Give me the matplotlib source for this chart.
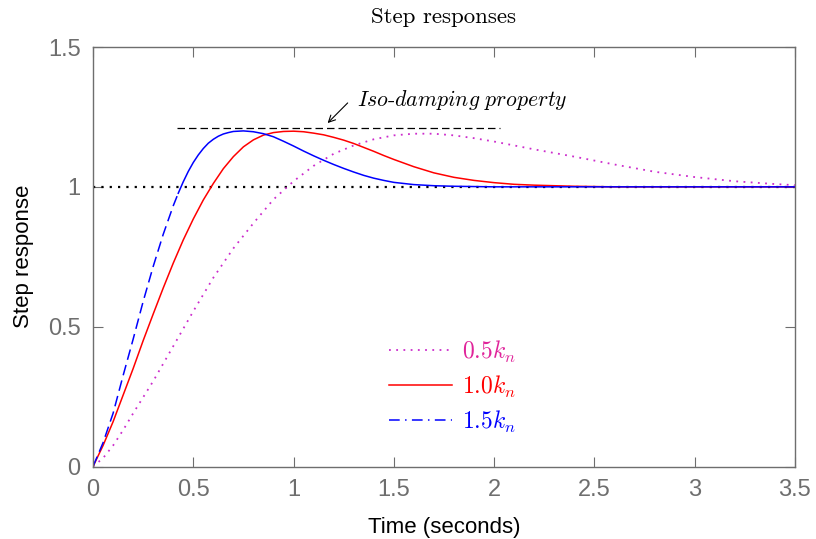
import matplotlib
matplotlib.use('Agg')
import numpy as np
from matplotlib import pyplot as plt

#%% DATA
t_red = [0, 0.05, 0.10, 0.15, 0.20, 0.25, 0.30, 0.35, 0.40, 0.45, 0.50, 0.55, 0.60,
         0.65, 0.70, 0.75, 0.80, 0.85, 0.90, 0.95, 1.00, 1.05, 1.10, 1.15, 1.20,
         1.25, 1.30, 1.35, 1.40, 1.45, 1.50, 1.55, 1.60, 1.70, 1.80, 1.90, 2.00,
         2.10, 2.20, 2.30, 2.40, 2.60, 3.00, 3.50]
y_red = [0, 0.075, 0.16, 0.255, 0.35, 0.45, 0.545, 0.638, 0.727, 0.81, 0.885, 0.953, 1.012,
         1.065, 1.108, 1.143, 1.168, 1.185, 1.194, 1.198, 1.199, 1.197, 1.192, 1.186, 1.177,
         1.167, 1.155, 1.141, 1.127, 1.112, 1.098, 1.085, 1.072, 1.05, 1.034, 1.023, 1.015,
         1.009, 1.006, 1.004, 1.002, 1.0, 1.0, 1.0]

t_blue = [0, 0.05, 0.10, 0.15, 0.20, 0.25, 0.30, 0.35, 0.40, 0.425, 0.45, 0.475, 0.50,
          0.525, 0.55, 0.575, 0.60, 0.625, 0.65, 0.675, 0.70, 0.75, 0.80, 0.85, 0.90,
          0.95, 1.00, 1.05, 1.10, 1.15, 1.20, 1.25, 1.30, 1.35, 1.40, 1.45, 1.50,
          1.60, 1.70, 1.80, 2.00, 2.50, 3.00, 3.50]
y_blue = [0, 0.085, 0.19, 0.325, 0.455, 0.59, 0.715, 0.83, 0.932, 0.977, 1.018, 1.055, 1.087,
          1.114, 1.137, 1.156, 1.17, 1.181, 1.189, 1.194, 1.198, 1.2, 1.197, 1.19, 1.179,
          1.163, 1.146, 1.128, 1.111, 1.095, 1.08, 1.066, 1.053, 1.041, 1.031, 1.023, 1.016,
          1.008, 1.004, 1.002, 1.0, 1.0, 1.0, 1.0]

t_mag = [0, 0.05, 0.10, 0.15, 0.20, 0.30, 0.40, 0.50, 0.60, 0.70, 0.80, 0.90, 1.00,
         1.10, 1.20, 1.30, 1.40, 1.50, 1.60, 1.70, 1.80, 1.90, 2.00, 2.20, 2.40,
         2.60, 2.80, 3.00, 3.20, 3.40, 3.50]
y_mag = [0, 0.03, 0.075, 0.13, 0.19, 0.305, 0.43, 0.555, 0.675, 0.78, 0.87, 0.955, 1.02,
         1.075, 1.118, 1.148, 1.17, 1.184, 1.19, 1.19, 1.184, 1.174, 1.162, 1.134, 1.108,
         1.08, 1.054, 1.035, 1.02, 1.01, 1.006]

legend_labels = [r'$0.5k_n$', r'$1.0k_n$', r'$1.5k_n$']
x_ticks = [0, 0.5, 1, 1.5, 2, 2.5, 3, 3.5]
x_tick_labels = ['0', '0.5', '1', '1.5', '2', '2.5', '3', '3.5']
y_ticks = [0, 0.5, 1, 1.5]
y_tick_labels = ['0', '0.5', '1', '1.5']

iso_level = 1.21          # dashed iso-damping line
iso_span = [0.42, 2.03]
blue_dash_end = 9         # index where the blue curve stops looking dashed

#%% STYLE
plt.rcParams['mathtext.fontset'] = 'cm'
gray = '#6e6e6e'
c_mag = '#cc2ccc'
c_mag_txt = '#e0249a'

fig = plt.figure(figsize=(8.16, 5.39), dpi=100)
ax = fig.add_axes([0.114, 0.1345, 0.86, 0.7783])

# reference lines
ax.plot([0, 3.5], [1, 1], color='black', lw=1.6, linestyle=(0, (1.0, 2.75)))
ax.plot(iso_span, [iso_level, iso_level], color='black', lw=0.9, linestyle=(0, (6, 3.2)))

# curves
ax.plot(t_mag, y_mag, color=c_mag, lw=1.3, linestyle=(0, (1.0, 3.0)))
ax.plot(t_red, y_red, color='red', lw=1.1)
ax.plot(t_blue[:blue_dash_end + 1], y_blue[:blue_dash_end + 1], color='blue', lw=1.1,
        linestyle=(0, (7, 3.5)))
ax.plot(t_blue[blue_dash_end:], y_blue[blue_dash_end:], color='blue', lw=1.1)

# legend proxies
h1, = ax.plot([], [], color=c_mag, lw=1.3, linestyle=(0, (1.0, 3.0)))
h2, = ax.plot([], [], color='red', lw=1.1)
h3, = ax.plot([], [], color='blue', lw=1.1, linestyle=(0, (7, 3.5, 1, 3.5)))
leg = ax.legend([h1, h2, h3], legend_labels, loc='upper left',
                bbox_to_anchor=(0.422, 0.305), frameon=False, fontsize=17,
                handlelength=2.65, handletextpad=0.45, labelspacing=0.38,
                borderpad=0, borderaxespad=0)
for txt, col in zip(leg.get_texts(), [c_mag_txt, 'red', 'blue']):
    txt.set_color(col)

# annotation
ax.annotate('', xy=(1.17, 1.228), xytext=(1.27, 1.30),
            arrowprops=dict(arrowstyle='->', color='black', lw=0.8,
                            shrinkA=0, shrinkB=0, mutation_scale=12))
ax.text(1.316, 1.312, r'$\mathit{Iso}$-$\mathit{damping\ property}$',
        fontsize=15.7, family='cmr10', ha='left', va='center')

# axes
ax.set_xlim(0, 3.5)
ax.set_ylim(0, 1.5)
ax.set_xticks(x_ticks)
ax.set_xticklabels(x_tick_labels)
ax.set_yticks(y_ticks)
ax.set_yticklabels(y_tick_labels)
ax.tick_params(direction='in', length=7, width=0.8, color=gray, labelcolor=gray,
               labelsize=17, top=True, right=True)
ax.tick_params(axis='x', pad=9)
ax.tick_params(axis='y', pad=9)
for lab in ax.get_xticklabels() + ax.get_yticklabels():
    lab.set_family('Liberation Sans')
for sp in ax.spines.values():
    sp.set_color(gray)
    sp.set_linewidth(1.0)

ax.set_xlabel('Time (seconds)', fontsize=16, family='Liberation Sans', labelpad=11.5)
ax.set_ylabel('Step response', fontsize=16, family='Liberation Sans', labelpad=10)
ax.text(0.5, 1.07, 'Step responses', transform=ax.transAxes, ha='center', va='center',
        fontsize=16.5, family='cmr10')

fig.savefig('out.png', dpi=100)
